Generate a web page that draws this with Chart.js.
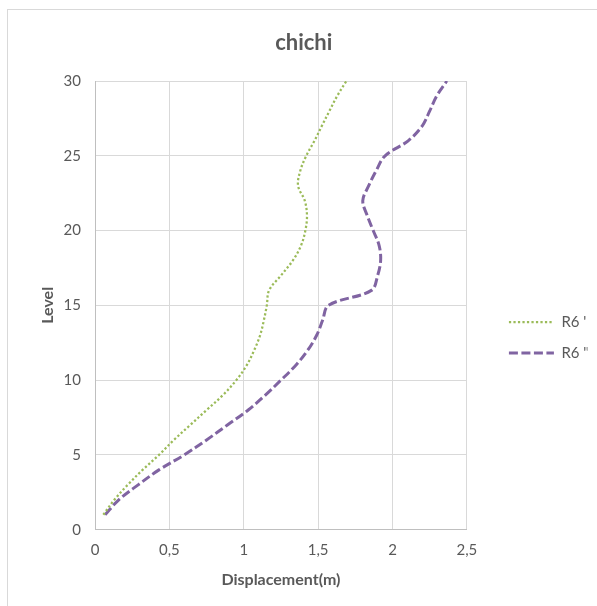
<!DOCTYPE html>
<html>
<head>
<meta charset="utf-8">
<script src="https://cdn.jsdelivr.net/npm/chart.js@4.4.1/dist/chart.umd.min.js"></script>
<style>
  body { margin: 0; background: #fff; overflow: hidden; }
  #frame { position: absolute; left: 7px; top: 9px; width: 620px; height: 620px; border: 1px solid #d9d9d9; }
  #chart { position: absolute; left: 0; top: 0; }
</style>
</head>
<body>
<div id="frame"></div>
<canvas id="chart" width="597" height="606"></canvas>
<script>
// niveles y desplazamientos (m)
const levels = [1, 2, 3, 4, 5, 6, 7, 8, 9, 10, 11, 12, 13, 14, 15, 16, 17, 18, 19, 20, 21, 22, 23, 24, 25, 26, 27, 28, 29, 30];
const r6Prime = [0.056, 0.13, 0.22, 0.32, 0.43, 0.53, 0.64, 0.75, 0.86, 0.95, 1.02, 1.07, 1.11, 1.135, 1.155, 1.17, 1.25, 1.33, 1.385, 1.414, 1.425, 1.41, 1.365, 1.38, 1.42, 1.475, 1.525, 1.576, 1.628, 1.69];
const r6Double = [0.068, 0.16, 0.29, 0.43, 0.60, 0.75, 0.89, 1.03, 1.145, 1.25, 1.35, 1.43, 1.49, 1.53, 1.57, 1.858, 1.90, 1.92, 1.91, 1.87, 1.83, 1.80, 1.84, 1.89, 1.95, 2.105, 2.20, 2.25, 2.297, 2.365];
const seriesNames = ["R6 '", 'R6 "'];

const gris = '#595959';
const fuente = 'Lato, "Open Sans", sans-serif';

function puntos(valores) {
    return valores.map((v, i) => ({ x: v, y: levels[i] }));
}

// la leyenda con pointStyle no copia el trazo discontinuo de la serie
function etiquetas(chart) {
    const items = Chart.defaults.plugins.legend.labels.generateLabels(chart);
    items.forEach((item) => {
        const ds = chart.data.datasets[item.datasetIndex];
        item.lineDash = ds.borderDash;
        item.lineWidth = ds.borderWidth;
        item.lineCap = 'butt';
        item.strokeStyle = ds.borderColor;
    });
    return items;
}

new Chart(document.getElementById('chart'), {
    type: 'line',
    data: {
        datasets: [
            {
                label: seriesNames[0],
                data: puntos(r6Prime),
                borderColor: '#9bbb59',
                borderWidth: 2.25,
                borderDash: [2.25, 2.25],
                pointRadius: 0,
                tension: 0.35,
                fill: false
            },
            {
                label: seriesNames[1],
                data: puntos(r6Double),
                borderColor: '#8064a2',
                borderWidth: 3,
                borderDash: [9, 3.5],
                pointRadius: 0,
                tension: 0.35,
                fill: false
            }
        ]
    },
    options: {
        responsive: false,
        animation: false,
        layout: { padding: { left: 20, right: 9.5, top: 0, bottom: 4 } },
        plugins: {
            title: {
                display: true,
                text: 'chichi',
                color: gris,
                font: { family: fuente, size: 22, weight: 'bold' },
                padding: { top: 29.8, bottom: 24.8 }
            },
            legend: {
                position: 'right',
                fullSize: false,
                title: { display: true, text: '', padding: { top: 0, bottom: 50 } },
                labels: {
                    usePointStyle: true,
                    pointStyle: 'line',
                    pointStyleWidth: 45,
                    padding: 16,
                    color: gris,
                    font: { family: fuente, size: 15 },
                    generateLabels: etiquetas
                }
            },
            tooltip: { enabled: false }
        },
        scales: {
            x: {
                type: 'linear',
                min: 0,
                max: 2.5,
                ticks: {
                    stepSize: 0.5,
                    padding: 11.35,
                    maxRotation: 0,
                    color: gris,
                    font: { family: fuente, size: 15 },
                    callback: (v) => String(v).replace('.', ',')
                },
                grid: { color: '#d9d9d9', drawTicks: false },
                border: { color: '#bfbfbf' },
                title: {
                    display: true,
                    text: 'Displacement(m)',
                    color: gris,
                    font: { family: fuente, size: 16, weight: 'bold' },
                    padding: { top: 0, bottom: 12.4 }
                }
            },
            y: {
                type: 'linear',
                min: 0,
                max: 30,
                ticks: {
                    stepSize: 5,
                    padding: 14,
                    color: gris,
                    font: { family: fuente, size: 15 }
                },
                grid: { color: '#d9d9d9', drawTicks: false },
                border: { color: '#bfbfbf' },
                title: {
                    display: true,
                    text: 'Level',
                    color: gris,
                    font: { family: fuente, size: 16, weight: 'bold' },
                    padding: { top: 18.4, bottom: 0 }
                },
                afterFit: (scale) => { scale.width = 75; }
            },
            // hueco entre el area del grafico y la leyenda
            hueco: {
                position: 'right',
                display: true,
                grid: { display: false },
                border: { display: false },
                ticks: { display: false },
                afterFit: (scale) => { scale.width = 26; }
            }
        }
    }
});
</script>
</body>
</html>
